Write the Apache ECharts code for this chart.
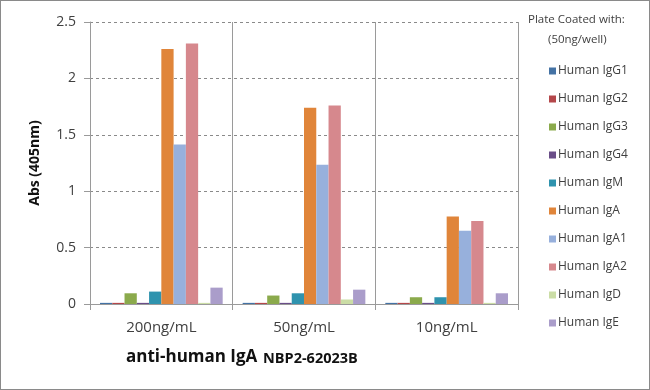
<!DOCTYPE html>
<html><head><meta charset="utf-8">
<script src="https://cdn.jsdelivr.net/npm/echarts@6/dist/echarts.min.js"></script>
<style>html,body{margin:0;padding:0;background:#fff}#c{width:648px;height:388px;border:1px solid #8a8a8a}</style>
</head><body><div id="c"></div>
<script>
const categories = ['200ng/mL', '50ng/mL', '10ng/mL'];
const seriesNames = ['Human IgG1','Human IgG2','Human IgG3','Human IgG4','Human IgM','Human IgA','Human IgA1','Human IgA2','Human IgD','Human IgE'];
const IgG1 = [0.01, 0.01, 0.01];
const IgG2 = [0.01, 0.01, 0.01];
const IgG3 = [0.095, 0.075, 0.06];
const IgG4 = [0.01, 0.01, 0.01];
const IgM  = [0.11, 0.095, 0.06];
const IgA  = [2.26, 1.74, 0.775];
const IgA1 = [1.415, 1.235, 0.65];
const IgA2 = [2.31, 1.76, 0.735];
const IgD  = [0.01, 0.04, 0.01];
const IgE  = [0.145, 0.127, 0.095];
const yTicks = [0, 0.5, 1, 1.5, 2, 2.5];
const values = [IgG1, IgG2, IgG3, IgG4, IgM, IgA, IgA1, IgA2, IgD, IgE];
const colors = ['#4472A4','#B4474A','#8BAA4C','#6A4E88','#2F93AE','#E0853A','#97B0DC','#D6888D','#CBDDA6','#AA9DCA'];
const font = '"Open Sans", Lato, sans-serif';
const chart = echarts.init(document.getElementById('c'));
chart.setOption({
  animation: false,
  grid: {left: 89, right: 131, top: 21, bottom: 85},
  xAxis: {
    type: 'category', data: categories,
    axisLine: {lineStyle: {color: '#9a9a9a', width: 1}},
    axisTick: {show: true, length: 6, lineStyle: {color: '#9a9a9a'}},
    splitLine: {show: true, lineStyle: {color: '#9a9a9a', width: 1}},
    axisLabel: {color: '#404040', fontSize: 15, fontFamily: font, margin: 16}
  },
  yAxis: {
    type: 'value', min: 0, max: 2.5, interval: 0.5,
    name: 'Abs (405nm)', nameLocation: 'middle', nameGap: 48,
    nameTextStyle: {color: '#111', fontSize: 14, fontWeight: 'bold', fontFamily: font},
    axisLine: {show: true, lineStyle: {color: '#9a9a9a'}},
    axisTick: {show: true, length: 6, lineStyle: {color: '#9a9a9a'}},
    splitLine: {show: true, lineStyle: {color: '#8a8a8a', type: [3, 3], width: 1}},
    axisLabel: {color: '#404040', fontSize: 14, fontFamily: font, margin: 14,
      formatter: v => yTicks.includes(v) ? String(v) : ''}
  },
  legend: {
    orient: 'vertical', left: 543, top: 59, itemWidth: 7, itemHeight: 7, itemGap: 16,
    icon: 'rect', data: seriesNames,
    textStyle: {color: '#404040', fontSize: 12, fontFamily: font, padding: [0,0,0,-3]}
  },
  graphic: [
    {type: 'text', left: 527, top: 13, style: {text: 'Plate Coated with:', fill: '#404040', font: '11.5px ' + font}},
    {type: 'text', left: 547, top: 33, style: {text: '(50ng/well)', fill: '#404040', font: '11.5px ' + font}},
    {type: 'text', left: 125, top: 348, style: {text: 'anti-human IgA', fill: '#111', font: 'bold 17px ' + font}},
    {type: 'text', left: 262, top: 350, style: {text: 'NBP2-62023B', fill: '#111', font: 'bold 14.5px ' + font}}
  ],
  series: seriesNames.map((n, i) => ({
    name: n, type: 'bar', data: values[i], barGap: '0%', barCategoryGap: '14%',
    itemStyle: {color: colors[i]}
  }))
});
</script></body></html>
